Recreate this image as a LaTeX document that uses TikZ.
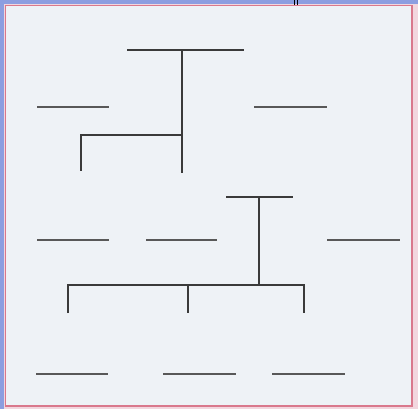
\documentclass[tikz,border=0pt]{standalone}
\definecolor{bgpage}{HTML}{EEF2F6}
\definecolor{bluestrip}{HTML}{8C9EE0}
\definecolor{frame}{HTML}{D9788C}
\definecolor{outerpink}{HTML}{F2D6DE}
\definecolor{ink}{HTML}{3A3A3A}
\tikzset{
  tline/.style={draw=ink, line width=1.1pt},
  blank/.style={draw=ink!85, line width=1.1pt},
}
\begin{document}
\begin{tikzpicture}[x=1pt,y=-1pt]
\useasboundingbox (0,0) rectangle (418,409);
% background and frame
\fill[outerpink] (0,0) rectangle (418,409);
\fill[bluestrip] (0,0) rectangle (418,4);
\fill[bluestrip] (0,0) rectangle (3.5,409);
\fill[bgpage] (6,6) rectangle (411,405);
\draw[frame, line width=1.8pt] (5.5,5.5) rectangle (412,406);
% small marks at top
\draw[black, line width=1pt] (294,0) -- (294,5);
\draw[black, line width=1pt] (297,0) -- (297,5);

% top tree
\coordinate (t1l) at (127,50);
\coordinate (t1r) at (244,50);
\coordinate (t1m) at (182,50);
\coordinate (t1j) at (182,135);
\coordinate (t1b) at (182,173);
\coordinate (t1k) at (81,135);
\coordinate (t1e) at (81,171);
\draw[tline] (t1l) -- (t1r);
\draw[tline] (t1m) -- (t1b);
\draw[tline] (t1j) -- (t1k) -- (t1e);

% side blanks (upper)
\coordinate (b1a) at (37,107); \coordinate (b1b) at (109,107);
\coordinate (b2a) at (254,107); \coordinate (b2b) at (327,107);
\draw[blank] (b1a) -- (b1b);
\draw[blank] (b2a) -- (b2b);

% second tree
\coordinate (t2l) at (226,197);
\coordinate (t2r) at (293,197);
\coordinate (t2m) at (259,197);
\coordinate (t2j) at (259,285);
\coordinate (t2a) at (68,285);
\coordinate (t2c) at (304,285);
\coordinate (t2bm) at (188,285);
\coordinate (t2ae) at (68,313);
\coordinate (t2be) at (188,313);
\coordinate (t2ce) at (304,313);
\draw[tline] (t2l) -- (t2r);
\draw[tline] (t2m) -- (t2j);
\draw[tline] (t2ae) -- (t2a) -- (t2c) -- (t2ce);
\draw[tline] (t2bm) -- (t2be);

% middle blanks
\coordinate (m1a) at (37,240); \coordinate (m1b) at (109,240);
\coordinate (m2a) at (146,240); \coordinate (m2b) at (217,240);
\coordinate (m3a) at (327,240); \coordinate (m3b) at (400,240);
\draw[blank] (m1a) -- (m1b);
\draw[blank] (m2a) -- (m2b);
\draw[blank] (m3a) -- (m3b);

% bottom blanks
\coordinate (n1a) at (36,374); \coordinate (n1b) at (108,374);
\coordinate (n2a) at (163,374); \coordinate (n2b) at (236,374);
\coordinate (n3a) at (272,374); \coordinate (n3b) at (345,374);
\draw[blank] (n1a) -- (n1b);
\draw[blank] (n2a) -- (n2b);
\draw[blank] (n3a) -- (n3b);
\end{tikzpicture}
\end{document}
